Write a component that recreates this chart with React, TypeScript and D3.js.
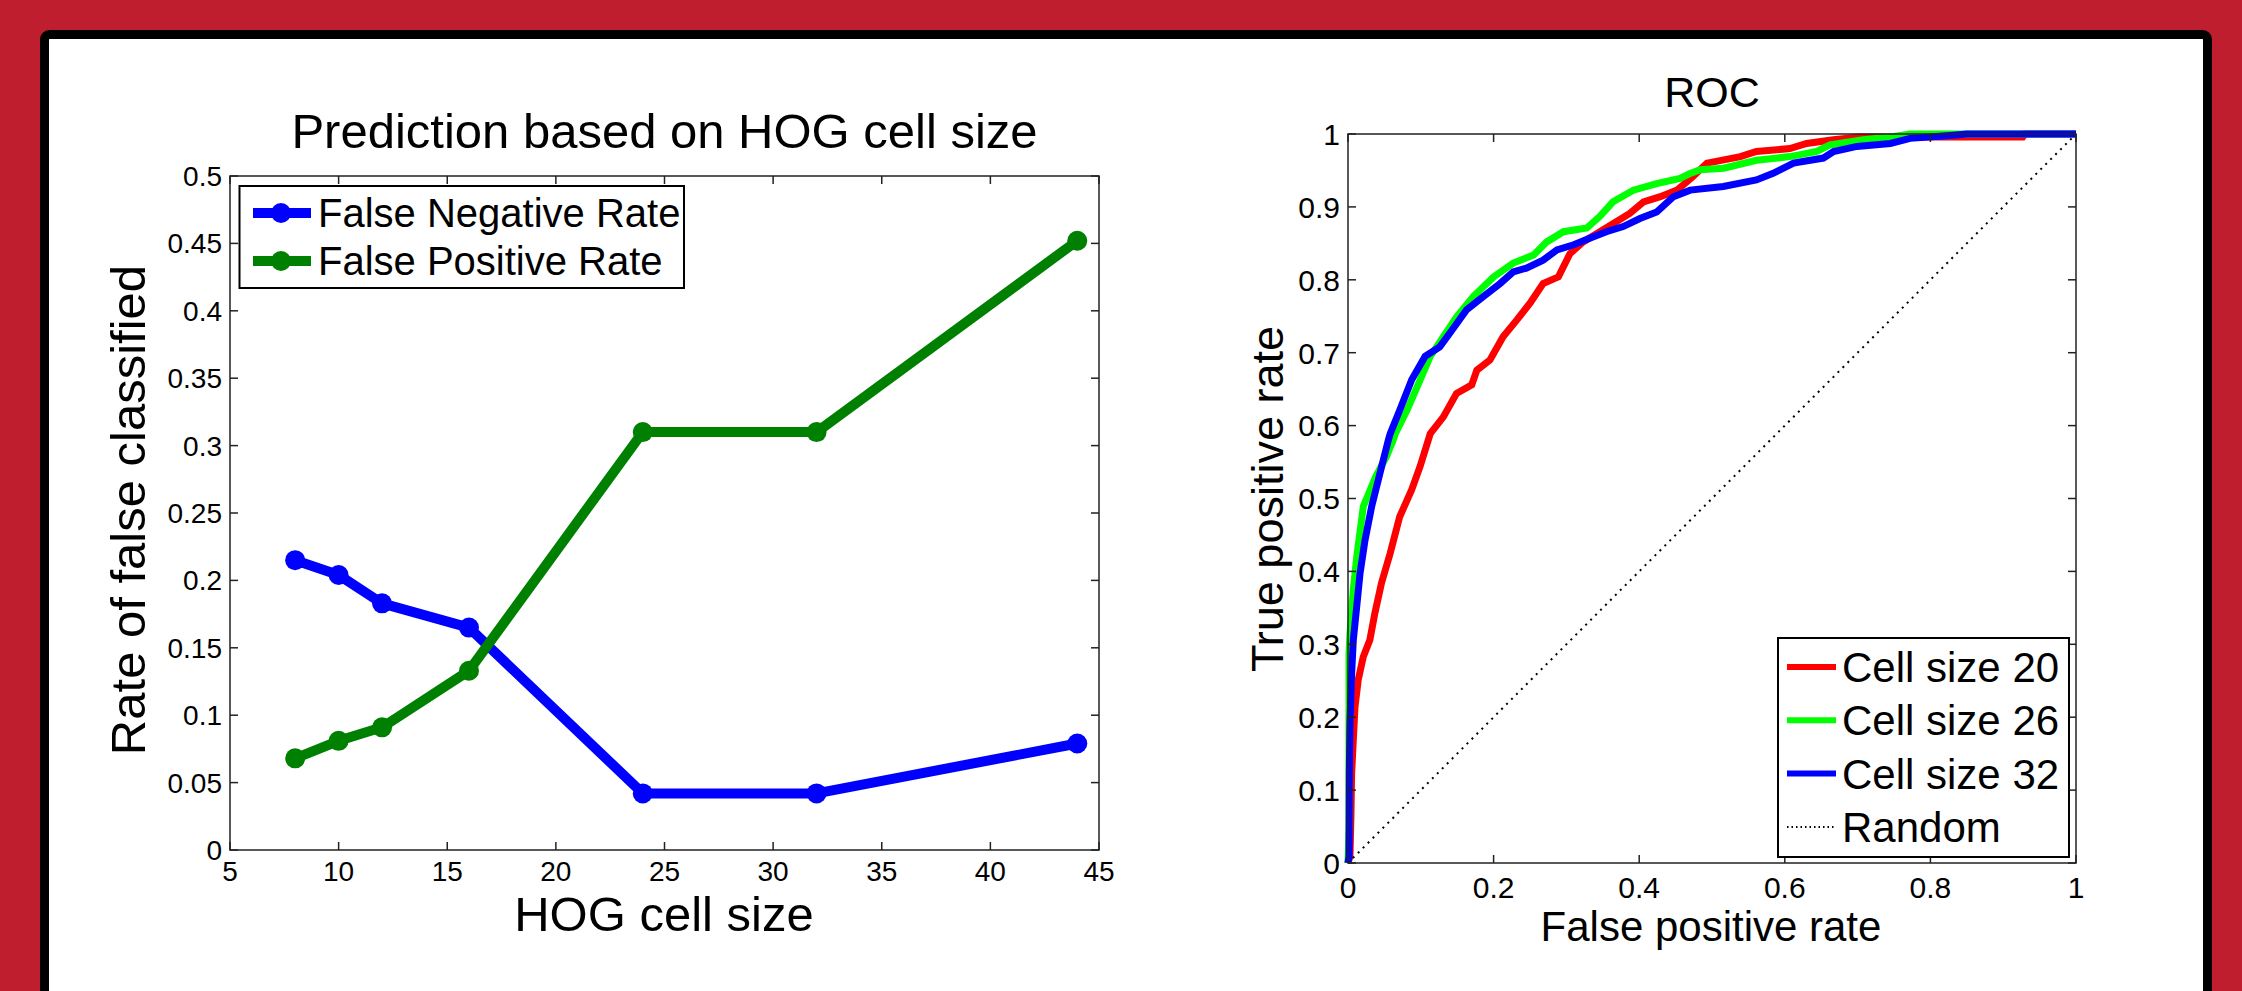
import React from 'react'
import * as d3 from 'd3'

// left chart: error rates per HOG cell size
const cellSizes = [8, 10, 12, 16, 24, 32, 44]
const falseNegRate = [0.215, 0.204, 0.183, 0.165, 0.042, 0.042, 0.079]
const falsePosRate = [0.068, 0.081, 0.091, 0.133, 0.310, 0.310, 0.452]
const leftXTicks = [5, 10, 15, 20, 25, 30, 35, 40, 45]
const leftYTicks = [0, 0.05, 0.1, 0.15, 0.2, 0.25, 0.3, 0.35, 0.4, 0.45, 0.5]

// right chart: ROC curves (fpr, tpr)
const roc20Fpr = [0, 0.0027, 0.004, 0.005, 0.0073, 0.0096, 0.014, 0.021, 0.030, 0.037, 0.046, 0.058, 0.071, 0.0875, 0.099, 0.113, 0.131, 0.149, 0.170, 0.177, 0.195, 0.213, 0.232, 0.250, 0.268, 0.289, 0.305, 0.323, 0.346, 0.369, 0.387, 0.406, 0.429, 0.452, 0.474, 0.493, 0.539, 0.561, 0.607, 0.630, 0.667, 0.703, 0.927, 0.93, 1]
const roc20Tpr = [0, 0.009, 0.064, 0.123, 0.169, 0.214, 0.251, 0.283, 0.306, 0.343, 0.384, 0.425, 0.475, 0.512, 0.544, 0.589, 0.612, 0.644, 0.656, 0.676, 0.690, 0.722, 0.745, 0.768, 0.795, 0.804, 0.836, 0.852, 0.866, 0.880, 0.891, 0.907, 0.914, 0.923, 0.942, 0.960, 0.969, 0.976, 0.980, 0.987, 0.992, 0.996, 0.996, 1, 1]

const roc26Fpr = [0, 0.0014, 0.0014, 0.0027, 0.0073, 0.012, 0.021, 0.038, 0.053, 0.062, 0.065, 0.081, 0.097, 0.113, 0.131, 0.149, 0.172, 0.200, 0.227, 0.255, 0.273, 0.296, 0.328, 0.346, 0.364, 0.392, 0.424, 0.456, 0.470, 0.484, 0.516, 0.561, 0.607, 0.644, 0.662, 0.708, 0.745, 0.772, 1]
const roc26Tpr = [0, 0.05, 0.288, 0.315, 0.375, 0.420, 0.489, 0.530, 0.558, 0.580, 0.589, 0.621, 0.658, 0.695, 0.722, 0.749, 0.777, 0.804, 0.823, 0.834, 0.852, 0.866, 0.871, 0.887, 0.907, 0.923, 0.932, 0.939, 0.946, 0.951, 0.953, 0.964, 0.969, 0.976, 0.985, 0.992, 0.996, 1, 1]

const roc32Fpr = [0, 0.0014, 0.0018, 0.0027, 0.005, 0.0073, 0.012, 0.0165, 0.0234, 0.0325, 0.044, 0.0554, 0.058, 0.071, 0.0875, 0.106, 0.126, 0.140, 0.163, 0.186, 0.209, 0.227, 0.245, 0.268, 0.287, 0.310, 0.332, 0.355, 0.378, 0.401, 0.424, 0.447, 0.470, 0.5155, 0.561, 0.584, 0.612, 0.653, 0.667, 0.699, 0.745, 0.772, 0.827, 0.85, 1]
const roc32Tpr = [0, 0.009, 0.123, 0.192, 0.260, 0.306, 0.352, 0.397, 0.443, 0.489, 0.535, 0.580, 0.589, 0.621, 0.663, 0.695, 0.708, 0.727, 0.759, 0.777, 0.795, 0.811, 0.816, 0.827, 0.841, 0.848, 0.857, 0.866, 0.873, 0.884, 0.893, 0.914, 0.923, 0.928, 0.937, 0.946, 0.960, 0.967, 0.976, 0.983, 0.987, 0.994, 0.998, 1, 1]

const randomFpr = [0, 1]
const randomTpr = [0, 1]

const rocXTicks = [0, 0.2, 0.4, 0.6, 0.8, 1]
const rocYTicks = [0, 0.1, 0.2, 0.3, 0.4, 0.5, 0.6, 0.7, 0.8, 0.9, 1]

const FONT = '"Liberation Sans", Arial, Helvetica, sans-serif'
const AXIS = '#222'
const TICK = 8

function Frame(props: { x0: number, x1: number, y0: number, y1: number,
  xs: any, ys: any, xTicks: number[], yTicks: number[], tickFont: number,
  xLabelBase: number, yLabelRight: number }) {
  const { x0, x1, y0, y1, xs, ys, xTicks, yTicks, tickFont, xLabelBase, yLabelRight } = props
  return <g>
    <rect x={x0} y={y0} width={x1 - x0} height={y1 - y0} fill="none" stroke={AXIS} strokeWidth={1.5}/>
    {xTicks.map(t => <g key={'x' + t}>
      <line x1={xs(t)} x2={xs(t)} y1={y1} y2={y1 - TICK} stroke={AXIS} strokeWidth={1.5}/>
      <line x1={xs(t)} x2={xs(t)} y1={y0} y2={y0 + TICK} stroke={AXIS} strokeWidth={1.5}/>
      <text x={xs(t)} y={xLabelBase} fontSize={tickFont} textAnchor="middle" fontFamily={FONT}>{String(t)}</text>
    </g>)}
    {yTicks.map(t => <g key={'y' + t}>
      <line x1={x0} x2={x0 + TICK} y1={ys(t)} y2={ys(t)} stroke={AXIS} strokeWidth={1.5}/>
      <line x1={x1} x2={x1 - TICK} y1={ys(t)} y2={ys(t)} stroke={AXIS} strokeWidth={1.5}/>
      <text x={yLabelRight} y={ys(t)} dy="0.36em" fontSize={tickFont} textAnchor="end" fontFamily={FONT}>{String(t)}</text>
    </g>)}
  </g>
}

function HogChart() {
  const xs = d3.scaleLinear().domain([5, 45]).range([230, 1099])
  const ys = d3.scaleLinear().domain([0, 0.5]).range([850, 176])
  const path = d3.line<number>().x((d, i) => xs(cellSizes[i])).y(d => ys(d))

  const series = [
    { name: 'False Negative Rate', values: falseNegRate, color: '#0000ff' },
    { name: 'False Positive Rate', values: falsePosRate, color: '#008000' },
  ]

  return <g>
    <text x={664.5} y={148} fontSize={49} textAnchor="middle" fontFamily={FONT}>Prediction based on HOG cell size</text>
    <Frame x0={230} x1={1099} y0={176} y1={850} xs={xs} ys={ys}
      xTicks={leftXTicks} yTicks={leftYTicks} tickFont={28} xLabelBase={881} yLabelRight={222}/>
    {series.map(s => <g key={s.name}>
      <path d={path(s.values) || ''} fill="none" stroke={s.color} strokeWidth={10} strokeLinejoin="round"/>
      {s.values.map((v, i) => <circle key={i} cx={xs(cellSizes[i])} cy={ys(v)} r={10} fill={s.color}/>)}
    </g>)}
    <text x={664} y={931} fontSize={49} textAnchor="middle" fontFamily={FONT}>HOG cell size</text>
    <text transform="translate(145,510) rotate(-90)" fontSize={49} textAnchor="middle" fontFamily={FONT}>Rate of false classified</text>

    <rect x={239.5} y={186} width={444.5} height={102} fill="white" stroke="#000" strokeWidth={2}/>
    {series.map((s, i) => {
      const cy = 213 + i * 48
      return <g key={'leg' + s.name}>
        <line x1={253} x2={311} y1={cy} y2={cy} stroke={s.color} strokeWidth={10}/>
        <circle cx={281} cy={cy} r={10} fill={s.color}/>
        <text x={318} y={cy + 14} fontSize={40} fontFamily={FONT}>{s.name}</text>
      </g>
    })}
  </g>
}

function RocChart() {
  const xs = d3.scaleLinear().domain([0, 1]).range([1348, 2076])
  const ys = d3.scaleLinear().domain([0, 1]).range([863, 134])
  const curve = (fpr: number[], tpr: number[]) =>
    d3.line<number>().x(d => xs(d)).y((d, i) => ys(tpr[i]))(fpr) || ''

  const curves = [
    { name: 'Cell size 20', fpr: roc20Fpr, tpr: roc20Tpr, color: '#ff0000' },
    { name: 'Cell size 26', fpr: roc26Fpr, tpr: roc26Tpr, color: '#00ff00' },
    { name: 'Cell size 32', fpr: roc32Fpr, tpr: roc32Tpr, color: '#0000ff' },
  ]

  return <g>
    <text x={1712} y={107} fontSize={43} textAnchor="middle" fontFamily={FONT}>ROC</text>
    {curves.map(c => <path key={c.name} d={curve(c.fpr, c.tpr)} fill="none" stroke={c.color} strokeWidth={7} strokeLinejoin="miter"/>)}
    <path d={curve(randomFpr, randomTpr)} fill="none" stroke="#000" strokeWidth={2} strokeDasharray="2 5"/>
    <Frame x0={1348} x1={2076} y0={134} y1={863} xs={xs} ys={ys}
      xTicks={rocXTicks} yTicks={rocYTicks} tickFont={30} xLabelBase={898} yLabelRight={1340}/>
    <text x={1711} y={941} fontSize={42} textAnchor="middle" fontFamily={FONT}>False positive rate</text>
    <text transform="translate(1283,499) rotate(-90)" fontSize={45} textAnchor="middle" fontFamily={FONT}>True positive rate</text>

    <rect x={1778} y={638} width={291} height={219} fill="white" stroke="#000" strokeWidth={2}/>
    {curves.map((c, i) => {
      const cy = 667 + i * 53.3
      return <g key={'leg' + c.name}>
        <line x1={1787} x2={1836} y1={cy} y2={cy} stroke={c.color} strokeWidth={6}/>
        <text x={1842} y={cy + 15} fontSize={42} fontFamily={FONT}>{c.name}</text>
      </g>
    })}
    <line x1={1787} x2={1836} y1={667 + 3 * 53.3} y2={667 + 3 * 53.3} stroke="#000" strokeWidth={2} strokeDasharray="1.5 3"/>
    <text x={1842} y={667 + 3 * 53.3 + 15} fontSize={42} fontFamily={FONT}>Random</text>
  </g>
}

export default function App() {
  return (
    <svg width={2242} height={991} style={{ position: 'absolute', left: 0, top: 0, display: 'block' }}>
      <rect x={0} y={0} width={2242} height={991} fill="#bf1e2e"/>
      <rect x={44.5} y={34.5} width={2163} height={1100} rx={5} fill="white" stroke="#000" strokeWidth={9}/>
      <HogChart/>
      <RocChart/>
    </svg>
  )
}
